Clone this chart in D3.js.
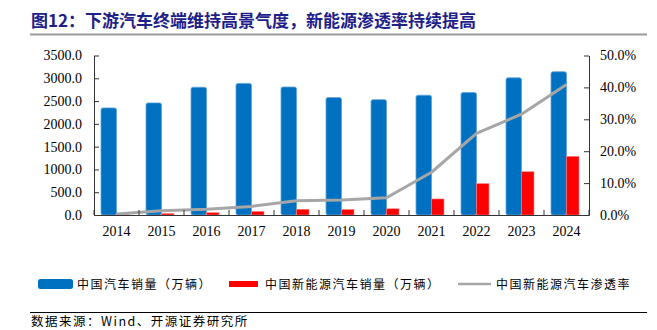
<!DOCTYPE html>
<html><head><meta charset="utf-8">
<script src="https://cdn.jsdelivr.net/npm/d3@7/dist/d3.min.js"></script>
<style>body{margin:0;background:#fff}svg{display:block}</style>
</head><body>
<svg id="c" width="657" height="330"></svg>
<script>
const years = ["2014","2015","2016","2017","2018","2019","2020","2021","2022","2023","2024"];
const autoSales = [2349.2,2459.8,2802.8,2887.9,2808.1,2576.9,2531.1,2627.5,2686.4,3009.4,3143.6];
const nevSales = [7.5,33.1,50.7,77.7,125.6,120.6,136.7,352.1,688.7,949.5,1286.6];
const nevRate = [0.32,1.35,1.81,2.69,4.47,4.68,5.40,13.40,25.60,31.60,40.90];
const leftTicks = [0,500,1000,1500,2000,2500,3000,3500];
const rightTicks = [0,10,20,30,40,50];
const title = "图12：下游汽车终端维持高景气度，新能源渗透率持续提高";
const legendNames = ["中国汽车销量（万辆）","中国新能源汽车销量（万辆）","中国新能源汽车渗透率"];
const source = "数据来源：Wind、开源证券研究所";

const svg = d3.select("#c");
const L = 94, R = 589, T = 55.5, B = 215;
const serif = "'Liberation Serif','Times New Roman',serif";
const cjk = "'Noto Sans CJK SC','Noto Sans CJK JP',sans-serif";

// title
svg.append("text").attr("x", 31).attr("y", 27).attr("font-family", cjk)
  .attr("font-weight", "bold").attr("font-size", 17).attr("fill", "#1d2088").text(title);
svg.append("line").attr("x1", 30).attr("x2", 647).attr("y1", 34.5).attr("y2", 34.5)
  .attr("stroke", "#999").attr("stroke-width", 2);

const x = d3.scaleBand().domain(years).range([L, R]).paddingInner(0).paddingOuter(0);
const yL = d3.scaleLinear().domain([0, 3500]).range([B, T]);
const yR = d3.scaleLinear().domain([0, 50]).range([B, T]);

// bars
const bw = 15.5, rw = 12.5;
svg.append("g").selectAll("rect").data(years).join("rect")
  .attr("x", d => x(d) + x.bandwidth()/2 - bw)
  .attr("y", (d,i) => yL(autoSales[i]))
  .attr("width", bw).attr("height", (d,i) => B - yL(autoSales[i]))
  .attr("rx", 2).attr("fill", "#0070C0").attr("stroke", "#5ea3dc").attr("stroke-width", 0.8);
svg.append("g").selectAll("rect").data(years).join("rect")
  .attr("x", d => x(d) + x.bandwidth()/2)
  .attr("y", (d,i) => yL(nevSales[i]))
  .attr("width", rw).attr("height", (d,i) => B - yL(nevSales[i]))
  .attr("fill", "#FF0000").attr("stroke", "#ff8080").attr("stroke-width", 0.6);

// line
const line = d3.line().x((d,i) => x(years[i]) + x.bandwidth()/2).y(d => yR(d));
svg.append("path").datum(nevRate).attr("d", line).attr("fill", "none")
  .attr("stroke", "#A6A6A6").attr("stroke-width", 3).attr("stroke-linejoin", "round");

// axes
const axisColor = "#333";
const gL = svg.append("g").attr("transform", `translate(${L},0)`)
  .call(d3.axisLeft(yL).tickValues(leftTicks).tickFormat(d => d.toFixed(1)).tickSizeInner(-5).tickSizeOuter(0).tickPadding(12));
const gR = svg.append("g").attr("transform", `translate(${R},0)`)
  .call(d3.axisRight(yR).tickValues(rightTicks).tickFormat(d => d.toFixed(1) + "%").tickSizeInner(-5).tickSizeOuter(0).tickPadding(11));
const gB = svg.append("g").attr("transform", `translate(0,${B})`)
  .call(d3.axisBottom(x).tickSize(0).tickPadding(11));
svg.append("g").selectAll("line").data(years.concat(["end"])).join("line")
  .attr("x1", (d,i) => L + i * x.bandwidth()).attr("x2", (d,i) => L + i * x.bandwidth())
  .attr("y1", B).attr("y2", B - 5).attr("stroke", axisColor);
[gL, gR, gB].forEach(g => {
  g.selectAll("path.domain").attr("stroke", axisColor);
  g.selectAll(".tick line").attr("stroke", axisColor);
  g.selectAll("text").attr("font-family", serif).attr("font-size", 14).attr("fill", "#000");
});

// legend
const ly = 284;
const lg = svg.append("g").attr("font-family", cjk).attr("font-size", 12).attr("fill", "#000").attr("letter-spacing", 1.5);
lg.append("rect").attr("x", 38).attr("y", ly - 5).attr("width", 35).attr("height", 10).attr("rx", 2.5).attr("fill", "#0070C0");
lg.append("text").attr("x", 77).attr("y", ly + 4.5).text(legendNames[0]);
lg.append("rect").attr("x", 229).attr("y", ly - 3).attr("width", 29).attr("height", 6).attr("fill", "#FF0000");
lg.append("text").attr("x", 265).attr("y", ly + 4.5).text(legendNames[1]);
lg.append("line").attr("x1", 458).attr("x2", 491).attr("y1", ly).attr("y2", ly).attr("stroke", "#A6A6A6").attr("stroke-width", 2.5);
lg.append("text").attr("x", 496).attr("y", ly + 4.5).text(legendNames[2]);

// footer
svg.append("line").attr("x1", 30).attr("x2", 647).attr("y1", 312.5).attr("y2", 312.5).attr("stroke", "#000").attr("stroke-width", 1);
svg.append("text").attr("x", 31).attr("y", 326).attr("font-family", cjk).attr("font-size", 12.5).attr("letter-spacing", 1.5).attr("fill", "#000").text(source);
</script>
</body></html>
